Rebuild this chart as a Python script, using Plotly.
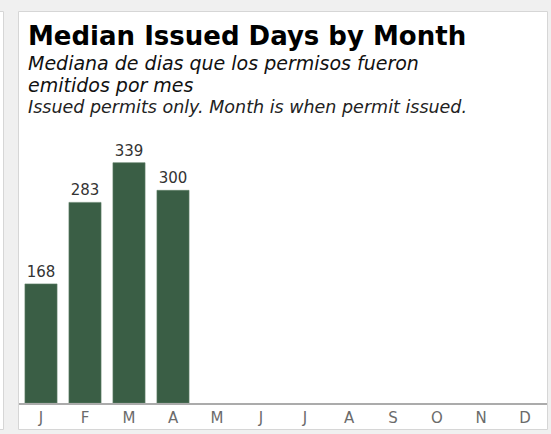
import plotly.graph_objects as go

# Median issued days per month (only Jan-Apr have data)
months = ["Jan", "Feb", "Mar", "Apr", "May", "Jun",
          "Jul", "Aug", "Sep", "Oct", "Nov", "Dec"]
month_letters = ["J", "F", "M", "A", "M", "J", "J", "A", "S", "O", "N", "D"]
median_days = [168, 283, 339, 300, None, None, None, None, None, None, None, None]

title = "Median Issued Days by Month"
subtitle_lines = ["Mediana de dias que los permisos fueron", "emitidos por mes"]
note = "Issued permits only. Month is when permit issued."

W, H = 551, 434
FONT = "DejaVu Sans, Liberation Sans, Arial, sans-serif"


def px(x):
    return x / W


def py(y):
    return 1 - y / H


def text_line(txt, bottom, size, color, fmt):
    # one line of header text, anchored by the bottom of its box
    return dict(text="<%s>%s</%s>" % (fmt, txt, fmt), x=px(26), y=py(bottom),
                xref="paper", yref="paper", xanchor="left", yanchor="bottom",
                showarrow=False, font=dict(family=FONT, size=size, color=color))


fig = go.Figure()

fig.add_trace(go.Bar(
    x=months,
    y=median_days,
    marker=dict(color="#3a5e45", line=dict(color="#5f7f68", width=0.6)),
    text=[str(v) if v is not None else "" for v in median_days],
    textposition="outside",
    textfont=dict(family=FONT, size=15, color="#333333"),
    cliponaxis=False,
    hoverinfo="x+y",
))

# card backgrounds (left sliver of the neighbour panel + main card)
shapes = [
    dict(type="rect", xref="paper", yref="paper",
         x0=px(-5), x1=px(3.5), y0=py(429.5), y1=py(11.5),
         fillcolor="white", line=dict(color="#d6d6d6", width=1), layer="below"),
    dict(type="rect", xref="paper", yref="paper",
         x0=px(18.5), x1=px(547.5), y0=py(429.5), y1=py(11.5),
         fillcolor="white", line=dict(color="#d6d6d6", width=1), layer="below"),
]

annotations = [
    text_line(title, 53, 26, "#000000", "b"),
    text_line(subtitle_lines[0], 76, 19, "#111111", "i"),
    text_line(subtitle_lines[1], 98, 19, "#111111", "i"),
    text_line(note, 119, 17.5, "#222222", "i"),
]

fig.update_layout(
    width=W,
    height=H,
    margin=dict(l=0, r=0, t=0, b=0),
    paper_bgcolor="#f0f0f0",
    plot_bgcolor="white",
    showlegend=False,
    bargap=0.27,
    shapes=shapes,
    annotations=annotations,
    xaxis=dict(
        domain=[px(19), px(547)],
        categoryorder="array",
        categoryarray=months,
        tickmode="array",
        tickvals=months,
        ticktext=month_letters,
        tickfont=dict(family=FONT, size=15, color="#6b6b6b"),
        showline=True,
        linecolor="#ababab",
        linewidth=2,
        ticks="",
        showgrid=False,
        automargin=False,
        fixedrange=True,
    ),
    yaxis=dict(
        domain=[py(403), py(140)],
        range=[0, 371],
        visible=False,
        showgrid=False,
        zeroline=False,
        automargin=False,
        fixedrange=True,
    ),
)

# drop the default page margin so the figure fills the window exactly
fig.write_html("out.html", config={"displayModeBar": False},
               post_script="document.body.style.margin='0';")
